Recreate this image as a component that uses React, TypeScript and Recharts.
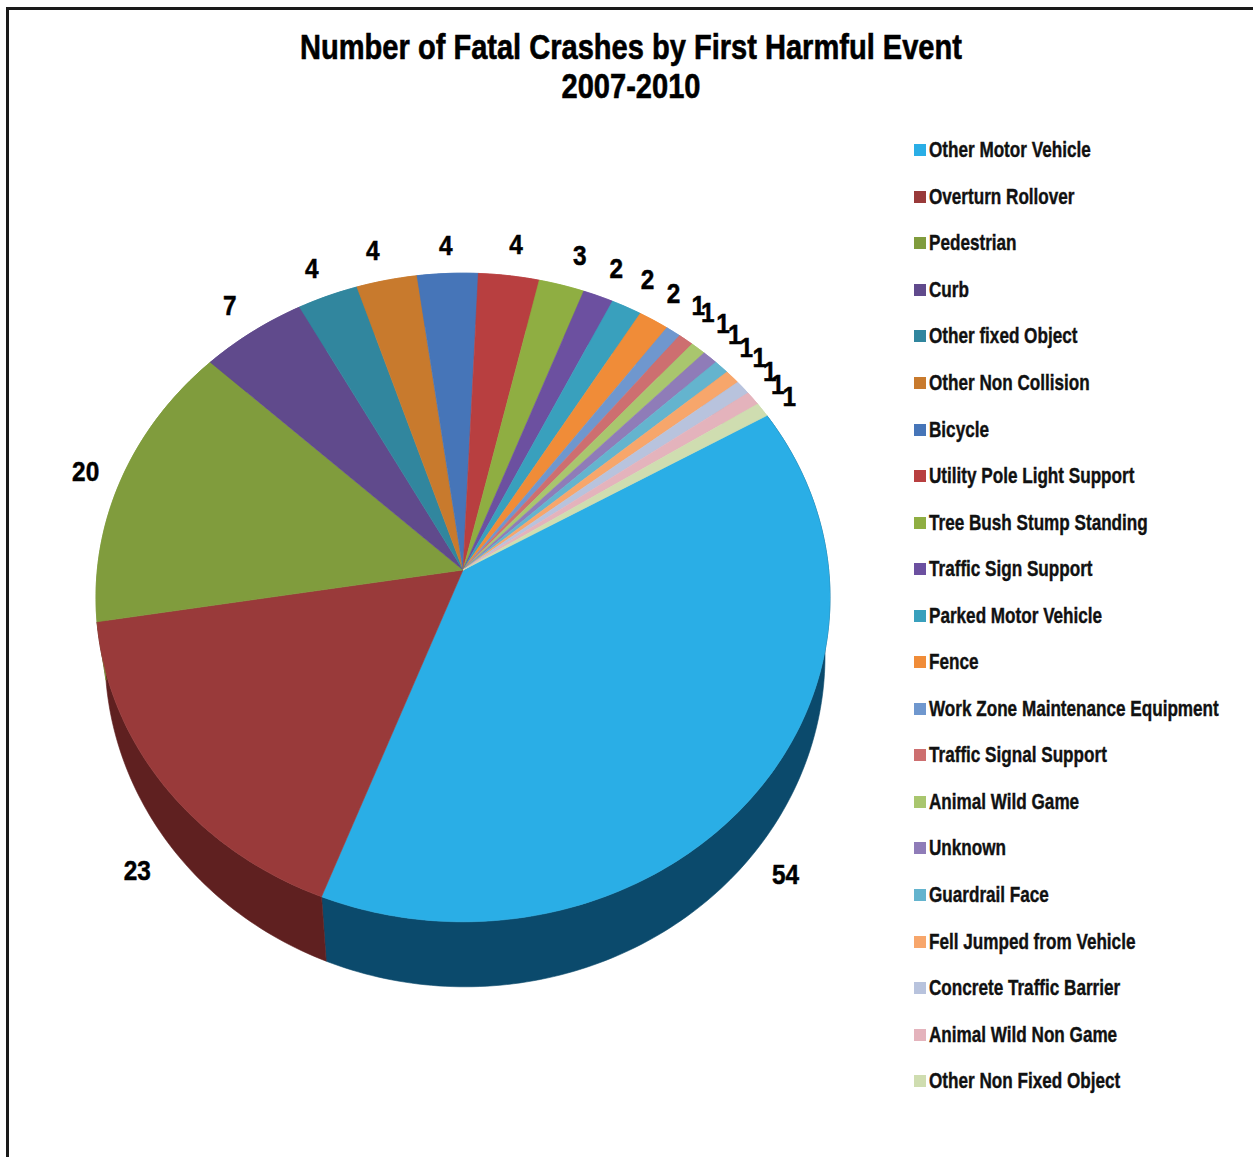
import { Legend, Pie, PieChart } from "recharts";

const categories = [
  "Other Motor Vehicle",
  "Overturn Rollover",
  "Pedestrian",
  "Curb",
  "Other fixed Object",
  "Other Non Collision",
  "Bicycle",
  "Utility Pole Light Support",
  "Tree Bush Stump Standing",
  "Traffic Sign Support",
  "Parked Motor Vehicle",
  "Fence",
  "Work Zone Maintenance Equipment",
  "Traffic Signal Support",
  "Animal Wild Game",
  "Unknown",
  "Guardrail Face",
  "Fell Jumped from Vehicle",
  "Concrete Traffic Barrier",
  "Animal Wild Non Game",
  "Other Non Fixed Object",
];

const crashes = [54, 23, 20, 7, 4, 4, 4, 4, 3, 2, 2, 2, 1, 1, 1, 1, 1, 1, 1, 1, 1];

const colors = [
  "#2aaee6", "#993a3a", "#809c3d", "#604a8c", "#31869e", "#c87a2d", "#4675b8",
  "#b83f40", "#8fae42", "#6c50a0", "#39a0bd", "#f08c38", "#6f97ce", "#cd6f70",
  "#a9c66e", "#8f7cb8", "#64b4ce", "#f7a66b", "#b8c3dd", "#e4b3bc", "#cfddb0",
];

// only the two front slices show their side wall
const wallColors: Record<number, string> = { 0: "#0b4a6c", 1: "#5f2020" };

// label offset from the slice's rim point, so crowded labels can fan out
const labelNudges = [
  [28, 83], [-26, 86], [-36, -7], [-23, -26], [-16, -28], [-14, -30], [-2, -28],
  [7, -31], [18, -30], [18, -28], [21, -28], [20, -27], [25, -26], [22, -27],
  [25, -25], [25, -23], [25, -20], [27, -20], [27, -16], [25, -14], [27, -13],
];

const sliceData = categories.map((name, i) => ({
  name,
  value: crashes[i],
  fill: colors[i],
}));

const WIDTH = 1253;
const HEIGHT = 1157;
const CX = 463;
const CY = 570;

// perspective tilt of the pie's top face
const TILT = 0.0847;
const SCALE_X = 365.7;
const SCALE_Y = 322;

const RAD = Math.PI / 180;

function rimPoint(angle: number): [number, number] {
  const u = Math.cos(angle * RAD);
  const v = Math.sin(angle * RAD);
  const w = 1 + TILT * v;
  return [CX + (SCALE_X * u) / w, CY - (SCALE_Y * v) / w];
}

// the base of the pie is a slightly narrower ellipse lower down
function basePoint([x, y]: [number, number]): [number, number] {
  return [465 + ((x - 463) * 360) / 367, 655 + ((y - 597) * 332) / 325];
}

function arcPoints(start: number, end: number) {
  const steps = Math.max(2, Math.ceil(Math.abs(end - start)));
  const pts: [number, number][] = [];
  for (let i = 0; i <= steps; i++) {
    pts.push(rimPoint(start + ((end - start) * i) / steps));
  }
  return pts;
}

const toPath = (pts: [number, number][]) =>
  "M" + pts.map(([x, y]) => `${x.toFixed(2)},${y.toFixed(2)}`).join("L") + "Z";

function TopSlice(props: any) {
  const { startAngle, endAngle, fill } = props;
  const d = toPath([[CX, CY], ...arcPoints(startAngle, endAngle)]);
  return <path d={d} fill={fill} stroke={fill} strokeWidth={0.6} />;
}

function WallSlice(props: any) {
  const { startAngle, endAngle, fill, index } = props;
  const top = arcPoints(startAngle, endAngle);
  const bottom = top.map(basePoint).reverse();
  const color = wallColors[index] ?? fill;
  return <path d={toPath([...top, ...bottom])} fill={color} stroke={color} strokeWidth={0.6} />;
}

function SliceLabel(props: any) {
  const { midAngle, value, index } = props;
  const [x, y] = rimPoint(midAngle);
  const [dx, dy] = labelNudges[index];
  return (
    <text
      transform={`translate(${x + dx},${y + dy}) scale(0.87,1)`}
      textAnchor="middle"
      dominantBaseline="central"
      fontFamily="'Liberation Sans', Arial, sans-serif"
      fontWeight={700}
      fontSize={28}
      fill="#000"
      stroke="#000"
      strokeWidth={0.5}
    >
      {value}
    </text>
  );
}

function LegendList({ payload }: any) {
  // both pie layers report their slices, keep each name once
  const items = (payload ?? []).filter(
    (item: any, i: number, all: any[]) => all.findIndex((o) => o.value === item.value) === i,
  );
  return (
    <div>
      {items.map((item: any) => (
        <div
          key={item.value}
          style={{ position: "relative", height: 46.55, display: "flex", alignItems: "center" }}
        >
          <span style={{ width: 12, height: 12, background: item.color, flex: "none" }} />
          <span
            style={{
              marginLeft: 3,
              fontFamily: "'Liberation Sans', Arial, sans-serif",
              fontWeight: 700,
              fontSize: 22,
              lineHeight: "24px",
              color: "#111",
              whiteSpace: "nowrap",
              transform: "scaleX(0.778)",
              transformOrigin: "left center",
              WebkitTextStroke: "0.4px #111",
            }}
          >
            {item.value}
          </span>
        </div>
      ))}
    </div>
  );
}

const titleLine = {
  position: "absolute",
  left: 0,
  width: 1262,
  textAlign: "center",
  fontFamily: "'Liberation Sans', Arial, sans-serif",
  fontWeight: 700,
  fontSize: 35,
  lineHeight: "40px",
  color: "#000",
  transform: "scaleX(0.83)",
  WebkitTextStroke: "0.6px #000",
} as const;

export default function App() {
  return (
    <div
      style={{
        position: "absolute",
        left: 0,
        top: 0,
        width: WIDTH,
        height: HEIGHT,
        overflow: "hidden",
        background: "#fff",
      }}
    >
      <div
        style={{
          position: "absolute",
          left: 6,
          top: 7,
          width: WIDTH,
          height: HEIGHT,
          borderLeft: "3px solid #1a1a1a",
          borderTop: "3px solid #1a1a1a",
        }}
      />
      <PieChart width={WIDTH} height={HEIGHT} margin={{ top: 0, right: 0, bottom: 0, left: 0 }}>
        <Legend
          layout="vertical"
          align="right"
          verticalAlign="top"
          itemSorter={null}
          content={<LegendList />}
          wrapperStyle={{ position: "absolute", left: 914, top: 127, width: 330 }}
        />
        <Pie
          data={sliceData}
          dataKey="value"
          nameKey="name"
          cx={CX}
          cy={CY}
          outerRadius={340}
          startAngle={30}
          endAngle={-330}
          stroke="none"
          legendType="none"
          shape={WallSlice}
          isAnimationActive={false}
        />
        <Pie
          data={sliceData}
          dataKey="value"
          nameKey="name"
          cx={CX}
          cy={CY}
          outerRadius={340}
          startAngle={30}
          endAngle={-330}
          stroke="none"
          shape={TopSlice}
          label={SliceLabel}
          labelLine={false}
          isAnimationActive={false}
        />
      </PieChart>
      <div style={{ ...titleLine, top: 27 }}>Number of Fatal Crashes by First Harmful Event</div>
      <div style={{ ...titleLine, top: 66 }}>2007-2010</div>
    </div>
  );
}
